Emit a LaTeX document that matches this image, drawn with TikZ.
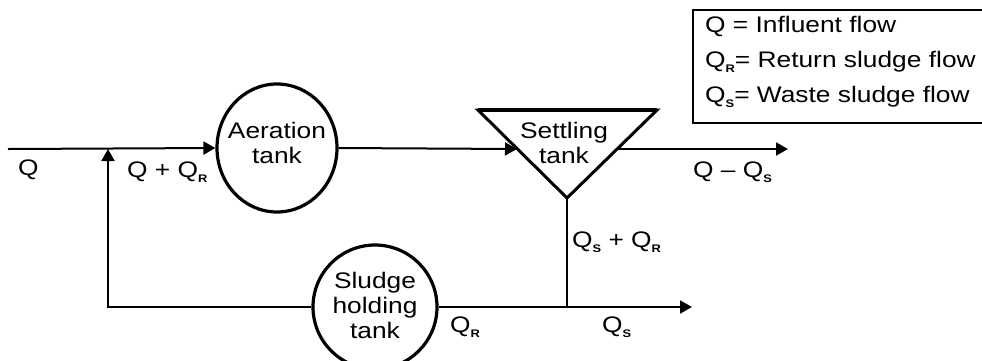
\documentclass[tikz,border=0pt]{standalone}
\usepackage{fontspec}
\setmainfont[FakeStretch=1.17]{Liberation Sans}
\usetikzlibrary{arrows.meta,shapes.geometric}
\newcommand\ssub[1]{\raisebox{-0.45ex}{\fontsize{11}{11}\selectfont\bfseries #1}}
\begin{document}
\begin{tikzpicture}[x=1pt,y=-1pt,
  flow/.style={line width=2pt},
  arr/.style={flow,-{Triangle[length=12pt,width=13pt]}},
  tank/.style={draw,line width=3.2pt,ellipse,inner sep=0pt},
  lbl/.style={anchor=west,inner sep=0pt,font=\fontsize{22.5}{25}\selectfont},
  ttext/.style={align=center,inner sep=0pt,font=\fontsize{22.5}{25}\selectfont}]
\useasboundingbox (0,0) rectangle (982,360);
% tanks
\node[tank,minimum width=120pt,minimum height=128pt] (aer) at (277,148) {};
\node[ttext] at (277,143) {Aeration\\tank};
\node[tank,minimum width=124pt,minimum height=124pt] (sl) at (375,307) {};
\node[ttext] at (375,305) {Sludge\\holding\\tank};
\coordinate (tl) at (478,110);
\coordinate (tr) at (657,110);
\coordinate (tb) at (567,198);
\draw[line width=3pt,line join=miter] (tl) -- (tr) -- (tb) -- cycle;
\draw[line width=4.5pt] (tl) -- (tr);
\node[ttext] (st) at (564,143) {Settling\\tank};
\coordinate (tin) at (517,149);
\coordinate (tout) at (618,149);
% flows
\coordinate (start) at (8,149);
\coordinate (ret) at (108,149);
\coordinate (retb) at (108,307);
\coordinate (eff) at (788,149);
\coordinate (junc) at (567,307);
\coordinate (waste) at (692,307);
\draw[arr] (start) -- (aer.west);
\draw[arr] (aer.east) -- (tin);
\draw[arr] (tout) -- (eff);
\draw[flow] (tb) -- (junc);
\draw[arr] (sl.east) -- (waste);
\draw[arr] (sl.west) -- (retb) -- (ret);
% labels
\node[lbl] (l1) at (18,170) {Q};
\node[lbl] (l2) at (127,172) {Q + Q\ssub{R}};
\node[lbl] (l3) at (693,172) {Q -- Q\ssub{S}};
\node[lbl] (l4) at (572,242) {Q\ssub{S} + Q\ssub{R}};
\node[lbl] (l5) at (450,327) {Q\ssub{R}};
\node[lbl] (l6) at (602,327) {Q\ssub{S}};
% legend
\draw[line width=2pt] (990,10) -- (693,10) -- (693,123) -- (990,123);
\node[lbl] (g1) at (705,26) {Q = Influent flow};
\node[lbl] (g2) at (705,62) {Q\ssub{R}= Return sludge flow};
\node[lbl] (g3) at (705,97) {Q\ssub{S}= Waste sludge flow};
\end{tikzpicture}
\end{document}
